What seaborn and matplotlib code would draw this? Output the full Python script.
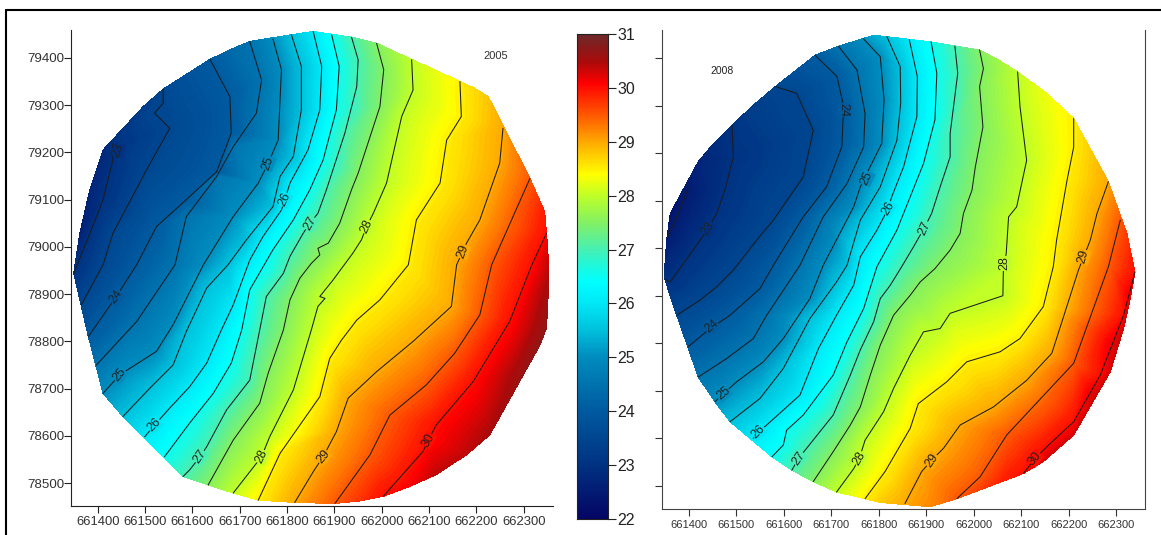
"""
Temperature maps for 2005 and 2008, isolines read off the picture
"""

import numpy as np
import pandas as pd
import matplotlib
matplotlib.use('Agg')
import matplotlib.pyplot as plt
import matplotlib.tri as mtri
from matplotlib.colors import LinearSegmentedColormap, Normalize
from matplotlib.lines import Line2D
import seaborn as sns

# 2005 isolines (easting, northing)
a_230 = [(661432, 79219), (661432, 79184), (661411, 79100), (661380, 79020), (661349, 78944)]
a_235 = [(661538, 79334), (661538, 79304), (661520, 79283), (661552, 79251), (661503, 79163),
         (661432, 79029), (661411, 78962), (661365, 78877)]
a_240 = [(661637, 79397), (661679, 79318), (661682, 79241), (661651, 79159), (661587, 79100),
         (661524, 79043), (661482, 78962), (661439, 78895), (661380, 78810)]
a_245 = [(661721, 79435), (661746, 79353), (661735, 79283), (661686, 79212), (661651, 79149),
         (661587, 79064), (661563, 78962), (661482, 78842), (661397, 78750)]
a_250 = [(661770, 79440), (661788, 79375), (661781, 79226), (661760, 79177), (661739, 79135),
         (661686, 79064), (661623, 78962), (661559, 78835), (661524, 78779), (661446, 78729),
         (661411, 78690)]
a_255 = [(661809, 79449), (661830, 79382), (661830, 79290), (661813, 79191), (661785, 79149),
         (661770, 79085), (661714, 79015), (661675, 78962), (661630, 78913), (661587, 78821),
         (661559, 78750), (661510, 78701), (661453, 78641)]
a_260 = [(661855, 79456), (661873, 79382), (661869, 79290), (661844, 79205), (661806, 79135),
         (661795, 79100), (661788, 79078), (661749, 79022), (661721, 78972), (661686, 78877),
         (661661, 78824), (661630, 78754), (661594, 78704), (661552, 78659), (661520, 78623),
         (661499, 78598)]
a_265 = [(661894, 79449), (661910, 79382), (661904, 79290), (661876, 79184), (661848, 79121),
         (661813, 79057), (661770, 78994), (661721, 78909), (661704, 78824), (661682, 78754),
         (661644, 78690), (661594, 78627), (661541, 78556)]
a_270 = [(661936, 79444), (661950, 79396), (661947, 79339), (661922, 79241), (661883, 79121),
         (661865, 79071), (661848, 79050), (661834, 79029), (661806, 78980), (661792, 78944),
         (661756, 78895), (661742, 78824), (661721, 78718), (661672, 78655), (661630, 78577),
         (661616, 78556), (661594, 78528), (661580, 78514)]
a_275 = [(661989, 79431), (662004, 79375), (661996, 79297), (661950, 79156), (661936, 79121),
         (661911, 79050), (661887, 79008), (661865, 78997), (661869, 78983), (661851, 78965),
         (661827, 78934), (661806, 78888), (661792, 78824), (661760, 78733), (661742, 78669),
         (661686, 78591), (661633, 78496)]
a_280 = [(662063, 79396), (662066, 79332), (662042, 79276), (662010, 79135), (661982, 79071),
         (661968, 79043), (661957, 79015), (661939, 78987), (661897, 78930), (661869, 78895),
         (661880, 78891), (661865, 78874), (661851, 78824), (661813, 78697), (661763, 78598),
         (661746, 78556), (661686, 78479)]
a_285 = [(662165, 79350), (662168, 79276), (662137, 79226), (662123, 79135), (662073, 79057),
         (662056, 78962), (661996, 78888), (661947, 78845), (661915, 78803), (661890, 78764),
         (661869, 78683), (661785, 78563), (661739, 78464)]
a_290 = [(662256, 79251), (662249, 79177), (662207, 79057), (662179, 79008), (662158, 78962),
         (662147, 78874), (662066, 78800), (661989, 78736), (661929, 78680), (661904, 78609),
         (661876, 78556), (661855, 78524), (661816, 78459)]
a_295 = [(662313, 79145), (662232, 78962), (662207, 78856), (662154, 78775), (662094, 78708),
         (662017, 78644), (661975, 78560), (661901, 78457)]
a_300 = [(662348, 79029), (662317, 78962), (662270, 78842), (662193, 78715), (662115, 78623),
         (662098, 78591), (662087, 78567), (662003, 78472)]

lines_2005 = [a_230, a_235, a_240, a_245, a_250, a_255, a_260, a_265,
              a_270, a_275, a_280, a_285, a_290, a_295, a_300]
levels_2005 = [23, 23.5, 24, 24.5, 25, 25.5, 26, 26.5, 27, 27.5, 28, 28.5, 29, 29.5, 30]

# rim of the 2005 map, between the isoline ends
rim_2005 = [(661362, 79029), (661383, 79121), (661411, 79205), (661496, 79297), (661587, 79363),
            (661679, 79417), (662115, 79371), (662196, 79336), (662225, 79318), (662284, 79198),
            (662344, 79075), (662351, 78987), (662353, 78927), (662348, 78828), (662334, 78792),
            (662292, 78729), (662263, 78666), (662228, 78602), (662179, 78560), (662115, 78518),
            (662059, 78493), (661953, 78462)]
rim_temp_2005 = [22.6, 22.7, 22.8, 23.3, 23.8, 24.3, 28.25, 28.65, 28.8, 29.25,
                 29.9, 30.3, 30.5, 30.7, 30.7, 30.6, 30.55, 30.5, 30.4, 30.4,
                 30.1, 29.75]

# contour labels: text, easting, northing, angle
lab_2005 = [('23', 661443, 79205, 70), ('24', 661439, 78895, 55), ('25', 661446, 78729, 50),
            ('25', 661760, 79177, 70), ('26', 661795, 79100, 65), ('26', 661520, 78623, 45),
            ('27', 661848, 79050, 60), ('27', 661616, 78556, 55), ('28', 661968, 79043, 65),
            ('28', 661746, 78556, 65), ('29', 662172, 78990, 70), ('29', 661876, 78556, 50),
            ('30', 662098, 78591, 60)]

# 2008 isolines
b_225 = [(661399, 79126), (661378, 79073), (661354, 79021)]
b_230 = [(661491, 79259), (661494, 79192), (661476, 79122), (661459, 79073), (661441, 79042),
         (661424, 79017), (661389, 78968), (661361, 78929), (661350, 78935)]
b_235 = [(661582, 79340), (661627, 79326), (661662, 79248), (661641, 79150), (661578, 79059),
         (661543, 79017), (661494, 78954), (661459, 78919), (661424, 78891), (661375, 78859)]
b_240 = [(661666, 79406), (661712, 79361), (661726, 79298), (661722, 79213), (661690, 79129),
         (661641, 79066), (661578, 78964), (661550, 78915), (661487, 78859), (661445, 78831),
         (661399, 78793)]
b_245 = [(661715, 79425), (661754, 79375), (661771, 79283), (661768, 79213), (661733, 79136),
         (661683, 79066), (661634, 78964), (661564, 78859), (661536, 78810), (661480, 78768),
         (661420, 78729)]
b_250 = [(661767, 79441), (661803, 79403), (661811, 79312), (661806, 79220), (661778, 79164),
         (661761, 79129), (661747, 79087), (661683, 78964), (661655, 78894), (661599, 78810),
         (661557, 78761), (661501, 78719), (661473, 78694), (661455, 78677)]
b_255 = [(661817, 79445), (661845, 79382), (661846, 79305), (661838, 79227), (661803, 79129),
         (661761, 79059), (661733, 78964), (661711, 78929), (661655, 78852), (661599, 78747),
         (661550, 78684), (661487, 78635)]
b_260 = [(661864, 79439), (661881, 79361), (661880, 79277), (661852, 79171), (661827, 79108),
         (661820, 79084), (661796, 79038), (661761, 78982), (661747, 78922), (661711, 78859),
         (661673, 78789), (661634, 78691), (661564, 78628), (661547, 78614), (661536, 78600)]
b_265 = [(661910, 79434), (661922, 79368), (661918, 79270), (661894, 79178), (661838, 79038),
         (661796, 78961), (661768, 78873), (661733, 78803), (661704, 78733), (661641, 78649),
         (661606, 78617), (661599, 78586), (661575, 78561)]
b_270 = [(661960, 79425), (661966, 79368), (661950, 79241), (661950, 79192), (661929, 79129),
         (661911, 79073), (661897, 79045), (661873, 79003), (661848, 78961), (661824, 78922),
         (661803, 78894), (661789, 78845), (661761, 78786), (661740, 78733), (661704, 78649),
         (661648, 78579), (661631, 78558), (661617, 78533)]
b_275 = [(662012, 79417), (662020, 79378), (662012, 79340), (662019, 79255), (662003, 79171),
         (661996, 79122), (661978, 79073), (661971, 79031), (661950, 78996), (661918, 78957),
         (661887, 78929), (661866, 78901), (661831, 78859), (661803, 78796), (661782, 78733),
         (661761, 78666), (661740, 78628), (661704, 78572), (661662, 78509)]
b_280 = [(662092, 79371), (662097, 79298), (662111, 79185), (662090, 79087), (662073, 79066),
         (662068, 78989), (662062, 78954), (662061, 78900), (661950, 78863), (661929, 78831),
         (661894, 78824), (661866, 78775), (661831, 78705), (661810, 78656), (661771, 78596),
         (661759, 78558), (661747, 78536), (661711, 78487)]
b_285 = [(662210, 79273), (662210, 79213), (662196, 79143), (662174, 79017), (662167, 78961),
         (662146, 78877), (662097, 78810), (662055, 78782), (661985, 78761), (661943, 78719),
         (661883, 78673), (661866, 78621), (661813, 78530), (661771, 78473)]
b_290 = [(662283, 79140), (662259, 79073), (662245, 79017), (662231, 78982), (662220, 78954),
         (662164, 78779), (662111, 78722), (662041, 78666), (661971, 78628), (661936, 78579),
         (661911, 78554), (661890, 78530), (661855, 78463)]
b_295 = [(662308, 79059), (662283, 78961), (662210, 78758), (662069, 78607), (662013, 78519),
         (661964, 78473)]
b_300 = [(662339, 78950), (662315, 78859), (662266, 78733), (662210, 78635), (662153, 78582),
         (662129, 78558), (662104, 78526)]

lines_2008 = [b_225, b_230, b_235, b_240, b_245, b_250, b_255, b_260, b_265,
              b_270, b_275, b_280, b_285, b_290, b_295, b_300]
levels_2008 = [22.5, 23, 23.5, 24, 24.5, 25, 25.5, 26, 26.5, 27, 27.5, 28, 28.5, 29, 29.5, 30]

rim_2008 = [(661350, 78968), (661361, 78898), (661361, 79073), (661420, 79182), (661452, 79220),
            (661536, 79301), (661627, 79375), (661789, 79448), (662052, 79396), (662153, 79326),
            (662182, 79298), (662252, 79192), (662322, 79031), (662329, 78894), (662315, 78831),
            (662301, 78796), (662287, 78740), (662252, 78684), (662210, 78607), (662146, 78551),
            (662069, 78516), (662017, 78493), (661908, 78456), (661803, 78465)]
rim_temp_2008 = [22.8, 23.25, 22.3, 22.7, 22.9, 23.3, 23.8, 25.3, 27.75, 28.3,
                 28.4, 28.8, 29.7, 30.2, 30.3, 30.3, 30.3, 30.3, 30.3, 30.3,
                 29.9, 29.7, 29.2, 28.75]

lab_2008 = [('23', 661441, 79042, 55), ('24', 661726, 79291, 270), ('24', 661448, 78835, 40),
            ('25', 661775, 79147, 65), ('25', 661473, 78694, 40), ('26', 661820, 79084, 60),
            ('26', 661547, 78614, 45), ('27', 661897, 79042, 65), ('27', 661631, 78558, 55),
            ('28', 662064, 78968, 90), ('28', 661759, 78558, 60), ('29', 662231, 78982, 75),
            ('29', 661911, 78554, 55), ('30', 662129, 78558, 50)]

x_ticks = [661400, 661500, 661600, 661700, 661800, 661900, 662000, 662100, 662200, 662300]
y_ticks = [78500, 78600, 78700, 78800, 78900, 79000, 79100, 79200, 79300, 79400]
bar_ticks = [31, 30, 29, 28, 27, 26, 25, 24, 23, 22]

# colour ramp of the scale bar
ramp_temp = [22, 23, 24, 25, 25.5, 26, 26.4, 26.7, 27, 27.5, 28, 28.4, 29, 29.5, 30.1, 30.5, 31]
ramp_col = ['#050564', '#003282', '#005aa0', '#008cbe', '#00c0dc', '#00e8f6', '#00ffff', '#1ef8dc',
            '#46f0b4', '#82f064', '#beff28', '#ffff00', '#ffaa00', '#ff5a00', '#ff0000', '#aa0a0a',
            '#6e2828']

W, H = 1161, 535


def add_axes(fig, left, right, top, bottom):
    return fig.add_axes([left / W, 1 - bottom / H, (right - left) / W, (bottom - top) / H])


def draw_map(ax, lines, levels, rim, rim_temp, labels, cmap, norm):
    xs, ys, zs = [], [], []
    for line, level in zip(lines, levels):
        xs += [p[0] for p in line]
        ys += [p[1] for p in line]
        zs += [level] * len(line)
    xs += [p[0] for p in rim]
    ys += [p[1] for p in rim]
    zs += list(rim_temp)

    tri = mtri.Triangulation(xs, ys)
    ax.tricontourf(tri, zs, levels=np.linspace(22, 31, 181), cmap=cmap, norm=norm, antialiased=False)

    for line in lines:
        df = pd.DataFrame(line, columns=['x', 'y'])
        sns.lineplot(data=df, x='x', y='y', sort=False, estimator=None, ax=ax,
                     color='#1c1c1c', linewidth=0.75)

    for text, x, y, angle in labels:
        ax.text(x, y, text, rotation=angle, ha='center', va='center', fontsize=9, color='#222222',
                bbox=dict(facecolor=cmap(norm(float(text))), edgecolor='none', pad=0.2))
    ax.set_xlabel('')
    ax.set_ylabel('')


sns.set_style('ticks')
plt.rcParams['font.family'] = ['Liberation Sans', 'DejaVu Sans']

temp_cmap = LinearSegmentedColormap.from_list(
    'temp', [((t - 22) / 9, c) for t, c in zip(ramp_temp, ramp_col)], N=512)
temp_norm = Normalize(22, 31)

fig = plt.figure(figsize=(W / 100, H / 100), dpi=100)

# left map
ax1 = add_axes(fig, 71.3, 552.7, 30, 506.3)
draw_map(ax1, lines_2005, levels_2005, rim_2005, rim_temp_2005, lab_2005, temp_cmap, temp_norm)
ax1.set_xlim(661344, 662361)
ax1.set_ylim(78451, 79459)
ax1.set_xticks(x_ticks)
ax1.set_yticks(y_ticks)
ax1.tick_params(axis='x', labelsize=9.4, length=5, width=0.8, pad=2, color='#222222', labelcolor='#333333')
ax1.tick_params(axis='y', labelsize=9.6, length=5, width=0.8, pad=0, color='#222222', labelcolor='#333333')
sns.despine(ax=ax1)
ax1.spines['left'].set_color('#222222')
ax1.spines['bottom'].set_color('#222222')
ax1.text(662240, 79404, '2005', ha='center', va='center', fontsize=8, color='#333333')

# right map
ax2 = add_axes(fig, 662.3, 1145, 30, 508.7)
draw_map(ax2, lines_2008, levels_2008, rim_2008, rim_temp_2008, lab_2008, temp_cmap, temp_norm)
ax2.set_xlim(661344.4, 662360)
ax2.set_ylim(78452, 79459)
ax2.set_xticks(x_ticks)
ax2.set_yticks(y_ticks)
ax2.set_yticklabels([])
ax2.tick_params(axis='x', labelsize=8, length=5, width=0.8, pad=3, color='#333333', labelcolor='#333333')
ax2.tick_params(axis='y', length=5, width=0.8, color='#333333')
ax2.spines['top'].set_visible(False)
for side in ['left', 'bottom', 'right']:
    ax2.spines[side].set_color('#444444')
ax2.text(661471, 79373, '2008', ha='center', va='center', fontsize=7.5, color='#222222')

# scale bar
ax3 = add_axes(fig, 576.7, 608, 34, 519)
bar_values = np.linspace(31, 22, 400)[:, None]
sns.heatmap(bar_values, ax=ax3, cmap=temp_cmap, vmin=22, vmax=31, cbar=False,
            xticklabels=False, yticklabels=False)
ax3.yaxis.tick_right()
ax3.set_yticks([(31 - v) / 9 * 400 for v in bar_ticks])
ax3.set_yticklabels([str(v) for v in bar_ticks], rotation=0)
ax3.tick_params(axis='y', labelsize=11.5, length=6, width=0.8, pad=1, color='#222222', labelcolor='#222222')
for spine in ax3.spines.values():
    spine.set_visible(True)
    spine.set_color('#222222')
    spine.set_linewidth(0.8)

# outer frame, only top and left survive in the picture
fig.add_artist(Line2D([6 / W, 1], [1 - 10 / H, 1 - 10 / H], color='black', linewidth=1.5))
fig.add_artist(Line2D([6 / W, 6 / W], [1 - 10 / H, 0], color='black', linewidth=1.5))

fig.savefig('out.png', dpi=100)
